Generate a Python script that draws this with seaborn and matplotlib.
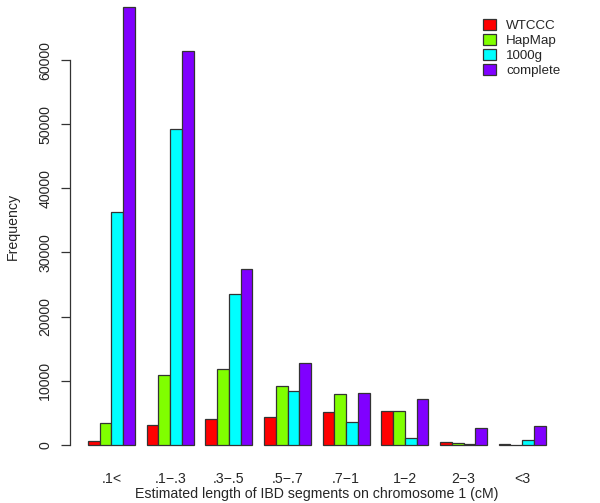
import pandas as pd
import numpy as np
import seaborn as sns
import matplotlib.pyplot as plt

# IBD segment length bins on chromosome 1
bins = ['.1<', '.1\u2212.3', '.3\u2212.5', '.5\u2212.7', '.7\u22121', '1\u22122', '2\u22123', '<3']
panels = ['WTCCC', 'HapMap', '1000g', 'complete']

wtccc = [580, 3030, 4010, 4320, 5150, 5260, 370, 50]
hapmap = [3340, 10830, 11770, 9110, 7860, 5260, 320, 30]
g1000 = [36300, 49320, 23470, 8430, 3490, 990, 50, 690]
complete = [68360, 61500, 27370, 12700, 8020, 7130, 2560, 2970]

colors = ['#FF0000', '#80FF00', '#00FFFF', '#8000FF']

df = pd.DataFrame({
    'bin': bins * 4,
    'panel': np.repeat(panels, len(bins)),
    'freq': wtccc + hapmap + g1000 + complete,
})

sns.set_style('white')
plt.rcParams['font.family'] = ['Liberation Sans', 'DejaVu Sans']

W, H = 600, 503
fig = plt.figure(figsize=(6, 5.03), dpi=100)
# axes placed in pixel terms to copy the R barplot layout
left, right = 69.7, 564.0
top_px, bot_px = 2.6, 462.0
ax = fig.add_axes([left / W, 1 - bot_px / H, (right - left) / W, (bot_px - top_px) / H])

sns.barplot(data=df, x='bin', y='freq', hue='panel', hue_order=panels,
            palette=colors, saturation=1, width=0.8, edgecolor='#333333',
            linewidth=0.9, ax=ax, legend=False)

ax.set_xlim(-0.712, 7.712)
ax.set_ylim(-2700, 69000)

for s in ['top', 'right', 'bottom']:
    ax.spines[s].set_visible(False)
ax.spines['left'].set_bounds(0, 60000)
ax.spines['left'].set_color('#333333')
ax.spines['left'].set_linewidth(0.9)

ax.set_yticks(np.arange(0, 60001, 10000))
ax.set_yticklabels([str(v) for v in range(0, 60001, 10000)], rotation=90, va='center')
ax.tick_params(axis='y', left=True, length=6.5, width=0.9, color='#333333', pad=6, labelsize=10.2)
ax.tick_params(axis='x', bottom=False, length=0, pad=7, labelsize=10.2)

ax.set_xlabel('Estimated length of IBD segments on chromosome 1 (cM)', fontsize=10.2, labelpad=1)
ax.set_ylabel('Frequency', fontsize=10.2)
ax.yaxis.set_label_coords(-50 / (right - left), 0.512)

handles = [plt.Rectangle((0, 0), 1, 1, facecolor=c, edgecolor='#333333', linewidth=0.9) for c in colors]
fig.legend(handles, panels, loc='upper left', bbox_to_anchor=(471 / W, 1 - 6.5 / H),
           frameon=False, fontsize=9.6, handlelength=0.95, handleheight=0.95,
           handletextpad=0.8, labelspacing=0.13)

plt.savefig('out.png', dpi=100)
